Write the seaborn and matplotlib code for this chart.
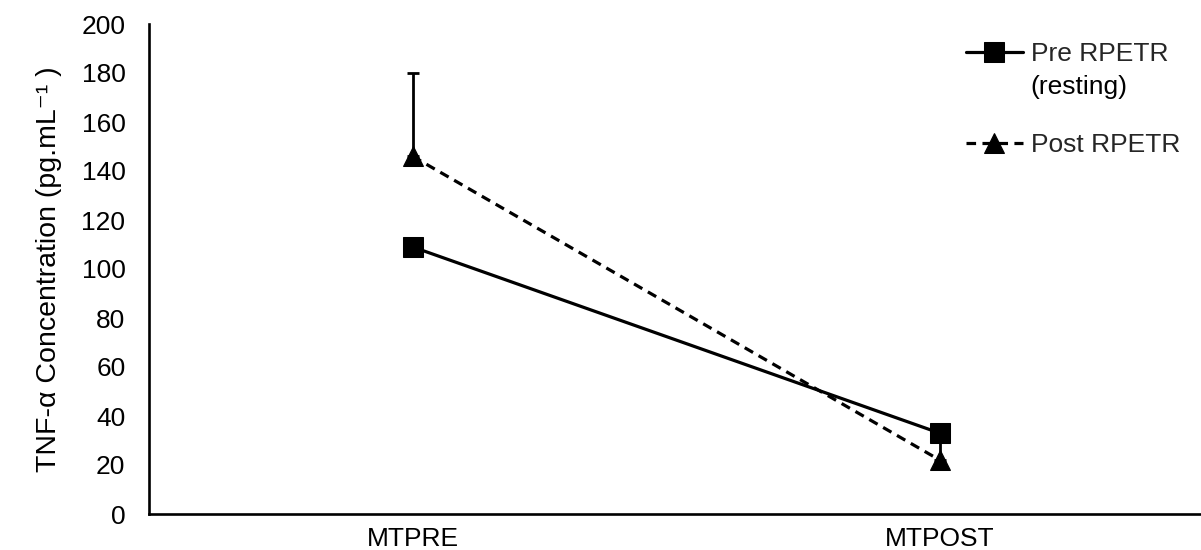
import matplotlib
matplotlib.use("Agg")
import matplotlib.pyplot as plt
import seaborn as sns
import pandas as pd

categories = ["MTPRE", "MTPOST"]
pre_values = [109, 33]
post_values = [146, 22]
post_err_upper = [34, 12]
series_names = ["Pre RPETR", "Post RPETR"]
pre_label_second_line = "(resting)"
y_ticks = list(range(0, 201, 20))
y_label = "TNF-α Concentration (pg.mL\u207b\u00b9 )"

sns.set_theme(style="white")
plt.rcParams["font.family"] = ["Liberation Sans", "DejaVu Sans"]

W, H = 1201, 550
fig = plt.figure(figsize=(W / 100, H / 100), dpi=100)
ax = fig.add_axes([149 / W, 1 - 514 / H, 1 - 149 / W + 0.002, (514 - 24) / H])

df = pd.DataFrame({
    "cat": categories * 2,
    "val": pre_values + post_values,
    "series": [series_names[0]] * 2 + [series_names[1]] * 2,
})

# upper error bars for the post series, beneath the markers
ax.errorbar(categories, post_values, yerr=[[0, 0], post_err_upper],
            fmt="none", ecolor="black", elinewidth=2.0, capsize=4.5,
            capthick=2.0, zorder=2)

sns.lineplot(data=df[df.series == series_names[0]], x="cat", y="val",
             ax=ax, color="black", marker="s", markersize=14,
             linewidth=2.3, label=series_names[0], zorder=3,
             markeredgecolor="black")
sns.lineplot(data=df[df.series == series_names[1]], x="cat", y="val",
             ax=ax, color="black", marker="^", markersize=14,
             linewidth=2.3, linestyle=(0, (3, 2)), label=series_names[1],
             zorder=3, markeredgecolor="black")

ax.set_xlim(-0.5, 1.5)
ax.set_ylim(0, 200)
ax.set_yticks(y_ticks)
ax.tick_params(axis="both", labelsize=19, length=0, colors="black")
ax.tick_params(axis="y", pad=17)
ax.tick_params(axis="x", pad=9)
ax.set_xlabel("")
ax.set_ylabel(y_label, fontsize=20.5, color="black", labelpad=14)

for side in ["top", "right"]:
    ax.spines[side].set_visible(False)
for side in ["left", "bottom"]:
    ax.spines[side].set_color("black")
    ax.spines[side].set_linewidth(1.9)

leg = ax.legend(loc="upper left", bbox_to_anchor=(966 / W, 1 - 42 / H),
                bbox_transform=fig.transFigure, frameon=False, fontsize=19,
                handlelength=2.15, handletextpad=0.3, labelspacing=2.55,
                borderpad=0, borderaxespad=0)

# second line of the first legend label, placed directly under its first line
fig.canvas.draw()
t0 = leg.get_texts()[0]
bb = t0.get_window_extent()
fig.text(bb.x0 / W, (bb.y0 - 33) / H, pre_label_second_line,
         fontsize=19, color="black", ha="left", va="bottom")

fig.savefig("out.png", dpi=100)
